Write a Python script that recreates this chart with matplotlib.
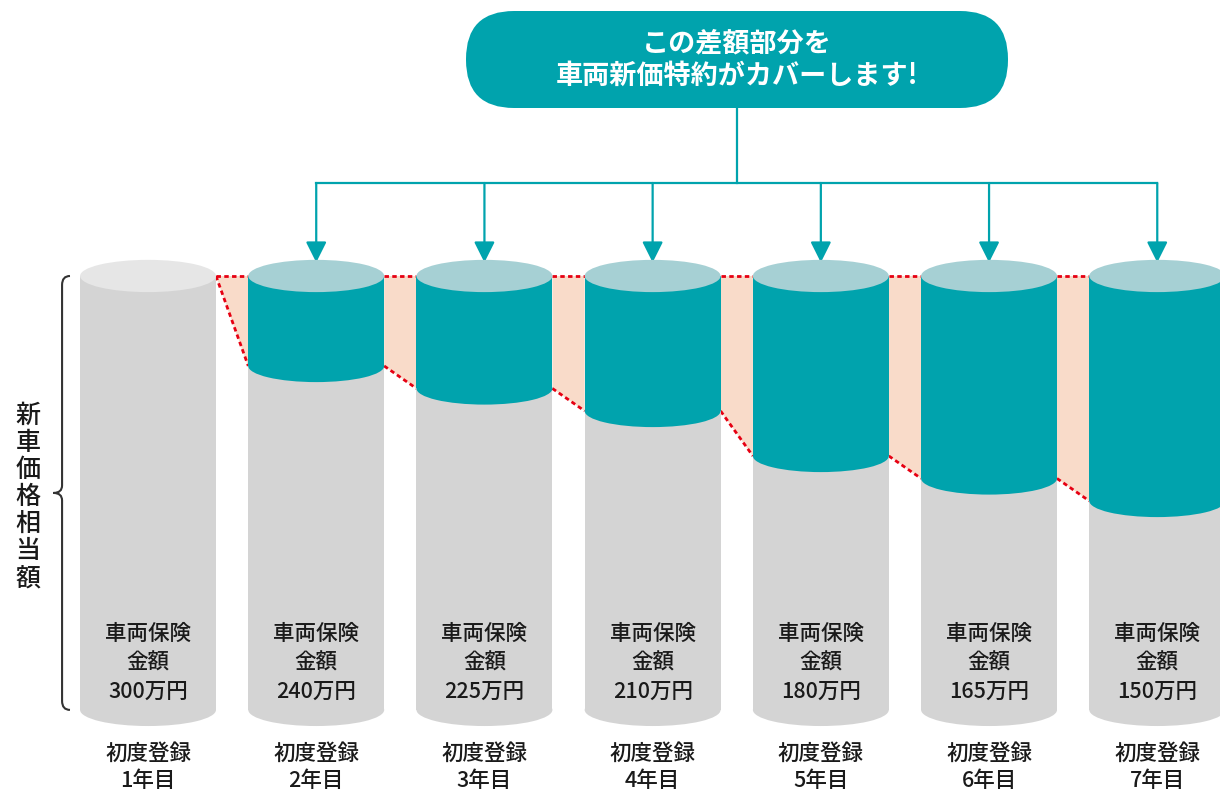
import matplotlib.pyplot as plt
from matplotlib.patches import Ellipse, Rectangle, Polygon, FancyBboxPatch, PathPatch
from matplotlib.path import Path

plt.rcParams['font.family'] = ['Noto Sans CJK JP', 'DejaVu Sans']

# data (万円)
years = ['1年目', '2年目', '3年目', '4年目', '5年目', '6年目', '7年目']
amounts = [300, 240, 225, 210, 180, 165, 150]
new_price = 300
cyl_label = '車両保険\n金額'
reg_label = '初度登録'
banner = 'この差額部分を\n車両新価特約がカバーします!'
side_label = '新車価格相当額'

TEAL = '#00a3ad'
TEAL_TOP = '#a6d0d4'
GRAY = '#d4d4d4'
GRAY_TOP = '#e6e6e6'
PEACH = '#f9dbc9'
RED = '#e60012'

fig = plt.figure(figsize=(12.2, 7.9), dpi=100)
ax = fig.add_axes([0, 0, 1, 1])
ax.set_xlim(-0.88, 6.373)
ax.set_ylim(-42.7, 484)
ax.axis('off')

hw = 0.404      # half width of a cylinder
eh = 21.5       # ellipse height in value units
base = 10.7     # bottom of cylinders

n = len(amounts)
for i, v in enumerate(amounts):
    x0 = i - hw
    ax.add_patch(Rectangle((x0, base), 2 * hw, v - base, color=GRAY, lw=0, zorder=2))
    ax.add_patch(Ellipse((i, base), 2 * hw, eh, color=GRAY, lw=0, zorder=2))
    if v < new_price:
        ax.add_patch(Rectangle((x0, v), 2 * hw, new_price - v, color=TEAL, lw=0, zorder=3))
        ax.add_patch(Ellipse((i, v), 2 * hw, eh, color=TEAL, lw=0, zorder=3))
        ax.add_patch(Ellipse((i, new_price), 2 * hw, eh, color=TEAL_TOP, lw=0, zorder=4))
    else:
        ax.add_patch(Ellipse((i, new_price), 2 * hw, eh, color=GRAY_TOP, lw=0, zorder=4))
    ax.text(i, 42.0, f'{cyl_label}\n{v}万円', ha='center', va='center',
            fontsize=15.5, fontweight='medium', linespacing=1.4, color='#1a1a1a', zorder=5)
    ax.text(i, -27.5, f'{reg_label}\n{years[i]}', ha='center', va='center',
            fontsize=15.5, fontweight='medium', linespacing=1.3, color='#1a1a1a', zorder=5)

# gap between the price and the insured amount
for i in range(n - 1):
    xa, xb = i + hw, i + 1 - hw
    ax.add_patch(Polygon([(xa, new_price), (xb, new_price), (xb, amounts[i + 1]), (xa, amounts[i])],
                         closed=True, color=PEACH, lw=0, zorder=1))
    ax.plot([xa, xb], [new_price, new_price], color=RED, lw=2, ls=(0, (1.6, 1.2)), zorder=1.5)
    ax.plot([xa, xb], [amounts[i], amounts[i + 1]], color=RED, lw=2, ls=(0, (1.6, 1.2)), zorder=1.5)

# connectors from the banner
ax.plot([3.5, 3.5], [362, 412], color=TEAL, lw=1.6)
ax.plot([1, n - 1], [362, 362], color=TEAL, lw=1.6)
for i in range(1, n):
    ax.annotate('', xy=(i, 309), xytext=(i, 362),
                arrowprops=dict(arrowstyle='-|>,head_length=0.7,head_width=0.35',
                                mutation_scale=18, color=TEAL, lw=1.6,
                                shrinkA=0, shrinkB=0))

# brace on the left
bx, tip, cx = -0.511, -0.562, -0.464
mid = (new_price + base) / 2
verts = [(cx, new_price), (bx, new_price), (bx, new_price - 6),
         (bx, mid + 5), (bx, mid), (tip, mid), (bx, mid), (bx, mid - 5),
         (bx, base + 6), (bx, base), (cx, base)]
codes = [Path.MOVETO, Path.CURVE3, Path.CURVE3,
         Path.LINETO, Path.CURVE3, Path.CURVE3, Path.CURVE3, Path.CURVE3,
         Path.LINETO, Path.CURVE3, Path.CURVE3]
ax.add_patch(PathPatch(Path(verts, codes), fill=False, ec='#333333', lw=1.5))

# banner and side label drawn in pixel space
deco = fig.add_axes([0, 0, 1, 1])
deco.set_xlim(0, 1220)
deco.set_ylim(790, 0)
deco.axis('off')
deco.patch.set_alpha(0)
deco.add_patch(FancyBboxPatch((466, 11), 542, 97, boxstyle='round,pad=0,rounding_size=48',
                              color=TEAL, lw=0))
deco.text(737, 60, banner, ha='center', va='center', fontsize=19.5, fontweight='bold',
          color='white', linespacing=1.2)
deco.text(28, 497, '\n'.join(side_label), ha='center', va='center', fontsize=18,
          fontweight='medium', color='#1a1a1a', linespacing=1.05)

fig.savefig('out.png', dpi=100)
